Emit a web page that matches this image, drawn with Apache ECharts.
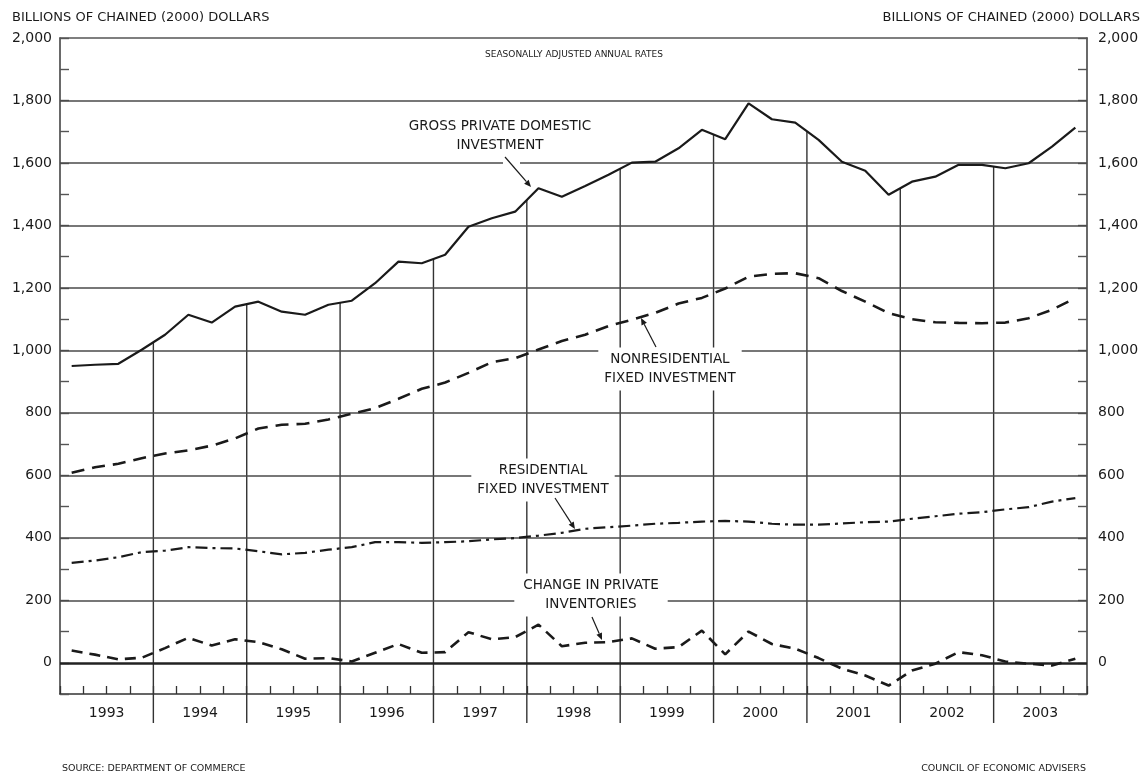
<!DOCTYPE html>
<html>
<head>
<meta charset="utf-8">
<title>Gross Private Domestic Investment</title>
<script src="https://cdn.jsdelivr.net/npm/echarts@6/dist/echarts.min.js"></script>
<style>
  html, body { margin: 0; padding: 0; background: #fff; }
  #chart { width: 1144px; height: 777px; }
</style>
</head>
<body>
<div id="chart"></div>
<script>
// quarterly, 1993 Q1 .. 2003 Q4, billions of chained (2000) dollars
var years = ['1993', '1994', '1995', '1996', '1997', '1998', '1999', '2000', '2001', '2002', '2003']
var grossInvestment = [950, 954, 957, 1002, 1050, 1114, 1089, 1140, 1156, 1124, 1114, 1146,
  1159, 1215, 1284, 1279, 1306, 1396, 1423, 1444, 1519, 1492, 1526, 1562,
  1601, 1604, 1647, 1706, 1676, 1791, 1740, 1729, 1674, 1604, 1575, 1498,
  1540, 1556, 1594, 1594, 1583, 1599, 1652, 1713]
var nonresInvestment = [608, 626, 637, 655, 670, 680, 695, 718, 750, 762, 765, 779,
  797, 815, 845, 877, 897, 928, 962, 975, 1003, 1030, 1050, 1078,
  1098, 1120, 1150, 1168, 1198, 1236, 1245, 1247, 1231, 1190, 1156, 1119,
  1100, 1090, 1088, 1087, 1089, 1103, 1130, 1167]
var resInvestment = [320, 327, 338, 354, 359, 370, 367, 366, 357, 347, 352, 362,
  370, 386, 386, 384, 386, 389, 395, 399, 407, 416, 429, 434,
  439, 445, 448, 452, 454, 452, 445, 442, 442, 446, 450, 452,
  461, 469, 477, 482, 491, 498, 516, 527]
var inventoryChange = [39, 26, 11, 16, 47, 80, 55, 75, 66, 43, 13, 15,
  4, 32, 60, 32, 34, 98, 75, 82, 122, 53, 64, 66,
  78, 45, 50, 103, 27, 100, 60, 45, 15, -19, -41, -73,
  -25, -3, 34, 24, 4, -3, -9, 13]
var yTicks = [0, 200, 400, 600, 800, 1000, 1200, 1400, 1600, 1800, 2000]
var gridValues = [200, 400, 600, 800, 1000, 1200, 1400, 1600, 1800]

var font = "'DejaVu Sans', 'Liberation Sans', sans-serif"
var ink = '#1a1a1a'

var quarters = []
years.forEach(function (y) {
  for (var q = 1; q <= 4; q++) quarters.push(y + ' Q' + q)
})

// drop lines at each year boundary, up to the gross investment line
var yearLines = []
for (var i = 1; i < years.length; i++) {
  var k = 4 * i
  yearLines.push([k - 1, (grossInvestment[k - 1] + grossInvestment[k]) / 2])
}

function tickLabel (v) {
  return yTicks.indexOf(v) >= 0 ? v.toLocaleString('en-US') : ''
}

function textEl (txt, x, y, size, align, extra) {
  var style = {
    text: txt, x: x, y: y, fill: ink, font: 'normal ' + size + 'px ' + font,
    align: align || 'left', verticalAlign: 'middle', lineHeight: size + 5
  }
  if (extra) Object.keys(extra).forEach(function (key) { style[key] = extra[key] })
  return { type: 'text', z: 100, style: style }
}

function arrow (x1, y1, x2, y2) {
  var a = Math.atan2(y2 - y1, x2 - x1)
  var h = 7
  var w = 3
  var bx = x2 - h * Math.cos(a)
  var by = y2 - h * Math.sin(a)
  var nx = -Math.sin(a) * w
  var ny = Math.cos(a) * w
  return [
    { type: 'line', z: 101, shape: { x1: x1, y1: y1, x2: bx, y2: by }, style: { stroke: ink, lineWidth: 1.2 } },
    { type: 'polygon', z: 101, shape: { points: [[x2, y2], [bx + nx, by + ny], [bx - nx, by - ny]] }, style: { fill: ink } }
  ]
}

var labelBox = { backgroundColor: '#fff', padding: [3, 6] }

var graphics = [
  textEl('BILLIONS OF CHAINED (2000) DOLLARS', 12, 18, 13, 'left'),
  textEl('BILLIONS OF CHAINED (2000) DOLLARS', 1140, 18, 13, 'right'),
  textEl('SEASONALLY ADJUSTED ANNUAL RATES', 574, 55, 9, 'center'),
  textEl('SOURCE: DEPARTMENT OF COMMERCE', 62, 769, 9.5, 'left'),
  textEl('COUNCIL OF ECONOMIC ADVISERS', 1086, 769, 9.5, 'right'),
  textEl('GROSS PRIVATE DOMESTIC\nINVESTMENT', 500, 136, 13.5, 'center'),
  textEl('NONRESIDENTIAL\nFIXED INVESTMENT', 670, 369, 13.5, 'center', labelBox),
  textEl('RESIDENTIAL\nFIXED INVESTMENT', 543, 480, 13.5, 'center', labelBox),
  textEl('CHANGE IN PRIVATE\nINVENTORIES', 591, 595, 13.5, 'center', { backgroundColor: '#fff', padding: [3, 9] }),
  { type: 'rect', z: 100, shape: { x: 503, y: 159, width: 17, height: 8 }, style: { fill: '#fff' } }
]
graphics = graphics
  .concat(arrow(505, 157, 531, 187))
  .concat(arrow(656, 347, 641, 318))
  .concat(arrow(555, 498, 575, 529))
  .concat(arrow(592, 617, 602, 640))

var chart = echarts.init(document.getElementById('chart'))
chart.setOption({
  animation: false,
  backgroundColor: '#fff',
  grid: { left: 60, right: 57, top: 38, bottom: 83 },
  xAxis: [
    {
      type: 'category',
      data: quarters,
      boundaryGap: true,
      position: 'bottom',
      axisLine: { show: true, onZero: false, lineStyle: { color: '#333', width: 1.6 } },
      axisTick: { show: true, inside: true, length: 8, interval: 0, lineStyle: { color: '#333', width: 1.3 } },
      axisLabel: { show: false },
      splitLine: { show: false }
    },
    {
      type: 'category',
      data: years,
      boundaryGap: true,
      position: 'bottom',
      axisLine: { show: false, onZero: false },
      axisTick: { show: false },
      axisLabel: { margin: 12, fontSize: 14, color: ink, fontFamily: font },
      splitLine: { show: false }
    },
    {
      type: 'category',
      data: quarters,
      position: 'top',
      axisLine: { show: true, onZero: false, lineStyle: { color: '#555', width: 1.6 } },
      axisTick: { show: false },
      axisLabel: { show: false },
      splitLine: { show: false }
    }
  ],
  yAxis: [
    {
      type: 'value',
      min: -100,
      max: 2000,
      interval: 100,
      position: 'left',
      axisLine: { show: true, onZero: false, lineStyle: { color: '#444', width: 1.6 } },
      axisTick: { show: true, inside: true, length: 9, lineStyle: { color: '#555', width: 1.4 } },
      axisLabel: { formatter: tickLabel, margin: 8, fontSize: 14, color: ink, fontFamily: font },
      splitLine: { show: false }
    },
    {
      type: 'value',
      min: -100,
      max: 2000,
      interval: 100,
      position: 'right',
      axisLine: { show: true, onZero: false, lineStyle: { color: '#444', width: 1.6 } },
      axisTick: { show: true, inside: true, length: 9, lineStyle: { color: '#555', width: 1.4 } },
      axisLabel: { formatter: tickLabel, margin: 11, fontSize: 14, color: ink, fontFamily: font },
      splitLine: { show: false }
    }
  ],
  graphic: graphics,
  series: [
    {
      name: 'grid',
      type: 'line',
      data: [],
      z: 1,
      silent: true,
      markLine: {
        silent: true,
        symbol: ['none', 'none'],
        label: { show: false },
        lineStyle: { color: '#4a4a4a', width: 1.6, type: 'solid' },
        data: gridValues.map(function (v) { return { yAxis: v } }).concat([
          { yAxis: 0, lineStyle: { color: '#222', width: 2.6, type: 'solid' } }
        ])
      }
    },
    {
      name: 'year lines',
      type: 'custom',
      z: 2,
      clip: false,
      silent: true,
      data: yearLines,
      encode: { x: 0, y: 1 },
      renderItem: function (params, api) {
        var p = api.coord([api.value(0), api.value(1)])
        var half = api.size([1, 0])[0] / 2
        var base = api.coord([api.value(0), -100])
        return {
          type: 'line',
          shape: { x1: p[0] + half, y1: p[1], x2: p[0] + half, y2: base[1] + 29 },
          style: { stroke: '#333', lineWidth: 1.4 }
        }
      }
    },
    {
      name: 'Gross private domestic investment',
      type: 'line',
      data: grossInvestment,
      z: 5,
      symbol: 'none',
      lineStyle: { color: ink, width: 2.2 }
    },
    {
      name: 'Nonresidential fixed investment',
      type: 'line',
      data: nonresInvestment,
      z: 5,
      symbol: 'none',
      lineStyle: { color: ink, width: 2.6, type: [13, 8] }
    },
    {
      name: 'Residential fixed investment',
      type: 'line',
      data: resInvestment,
      z: 5,
      symbol: 'none',
      lineStyle: { color: ink, width: 2.2, type: [12, 5, 3, 5] }
    },
    {
      name: 'Change in private inventories',
      type: 'line',
      data: inventoryChange,
      z: 5,
      symbol: 'none',
      lineStyle: { color: ink, width: 2.6, type: [11, 7] }
    }
  ]
})
</script>
</body>
</html>
